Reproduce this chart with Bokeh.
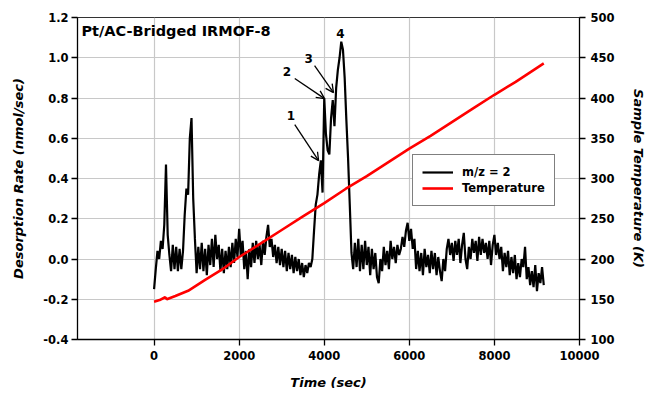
import math
from bokeh.plotting import figure
from bokeh.models import (Range1d, LinearAxis, FixedTicker, NumeralTickFormatter,
                          Label, Arrow, OpenHead, Legend, LegendItem)
from bokeh.embed import file_html
from bokeh.resources import INLINE

# ---------------- data ----------------
x_ticks = [0, 2000, 4000, 6000, 8000, 10000]
rate_ticks = [-0.4, -0.2, 0.0, 0.2, 0.4, 0.6, 0.8, 1.0, 1.2]
temp_ticks = [100, 150, 200, 250, 300, 350, 400, 450, 500]

# m/z = 2 desorption rate (nmol/sec), sampled every 40 s
rate_time = list(range(0, 9200, 40))
rate_values = [
    -0.15, -0.05, 0.04, 0.00, 0.09, 0.05, 0.17, 0.47, 0.12, 0.02,
    -0.06, 0.07, -0.05, 0.06, -0.06, 0.05, -0.05, 0.04, 0.22, 0.35,
    0.32, 0.60, 0.70, 0.30, 0.10, -0.07, 0.06, -0.05, 0.08, -0.06,
    0.05, -0.08, 0.07, -0.03, 0.10, -0.04, 0.12, 0.00, 0.07, -0.06,
    0.05, -0.07, 0.04, -0.05, 0.06, -0.04, 0.08, -0.02, 0.10, 0.01,
    0.15, 0.02, 0.09, -0.05, 0.04, -0.10, 0.05, -0.04, 0.08, -0.02,
    0.09, 0.00, 0.07, -0.03, 0.09, 0.02, 0.11, 0.17, 0.06, 0.10,
    0.01, 0.07, -0.02, 0.06, -0.03, 0.05, -0.04, 0.04, -0.06, 0.03,
    -0.05, 0.02, -0.07, 0.01, -0.06, 0.00, -0.08, -0.02, -0.09, -0.03,
    -0.07, -0.02, -0.04, 0.00, 0.14, 0.27, 0.32, 0.42, 0.49, 0.33,
    0.80, 0.62, 0.54, 0.52, 0.70, 0.79, 0.66, 0.85, 0.94, 1.00,
    1.08, 1.04, 0.90, 0.69, 0.50, 0.27, 0.03, -0.05, 0.08, -0.04,
    0.10, -0.06, 0.07, -0.05, 0.09, -0.03, 0.06, -0.08, 0.05, -0.05,
    0.03, -0.09, -0.12, 0.00, -0.06, 0.06, -0.03, 0.04, -0.05, 0.09,
    0.00, 0.06, -0.02, 0.07, 0.02, 0.05, 0.11, 0.06, 0.14, 0.18,
    0.09, 0.15, 0.05, 0.10, -0.05, 0.04, -0.06, 0.03, -0.08, 0.05,
    -0.04, 0.02, -0.07, 0.04, -0.05, 0.03, -0.08, 0.01, -0.06, -0.11,
    0.00, -0.06, 0.05, 0.10, 0.02, 0.08, -0.01, 0.09, 0.02, 0.10,
    -0.02, 0.07, 0.13, 0.00, -0.05, 0.06, 0.00, 0.10, 0.03, 0.09,
    -0.01, 0.11, 0.02, 0.10, 0.03, 0.08, 0.00, 0.09, -0.03, 0.07,
    0.12, 0.02, 0.08, 0.00, 0.06, -0.06, 0.03, -0.04, 0.04, -0.08,
    0.01, -0.07, 0.02, -0.10, -0.02, -0.09, 0.00, -0.04, 0.06, -0.10,
    -0.04, -0.13, -0.06, -0.14, -0.03, -0.16, -0.07, -0.12, -0.04, -0.13,
]

# sample temperature (K)
temp_time = [0, 130, 260, 300, 500, 800, 1200, 1600, 2000, 2500, 3000, 3500,
             4000, 4500, 5000, 5500, 6000, 6500, 7000, 7500, 8000, 8500, 9000, 9160]
temp_K = [147, 149, 152.5, 150, 154, 160.5, 174, 187, 202.5, 219, 236, 253,
          269.5, 287, 303, 320, 337, 353, 370, 387, 404, 420, 437.5, 443]

peak_labels = ["1", "2", "3", "4"]
peak_label_x = [3214, 3121, 3634, 4380]
peak_label_y = [0.713, 0.932, 0.996, 1.12]
arrow_x0 = [3307, 3307, 3773]
arrow_y0 = [0.668, 0.897, 0.961]
arrow_x1 = [3867, 4007, 4217]
arrow_y1 = [0.489, 0.797, 0.827]

FONT = "DejaVu Sans"

p = figure(width=648, height=393, x_range=Range1d(-1800, 10000), y_range=Range1d(-0.4, 1.2),
           output_backend="svg", toolbar_location=None,
           min_border_left=77, min_border_right=65, min_border_top=17, min_border_bottom=54)
p.background_fill_color = "white"
p.border_fill_color = "white"
p.outline_line_color = "#333333"
p.outline_line_width = 1

p.extra_y_ranges = {"temp": Range1d(100, 500)}

# grids
p.xgrid.ticker = FixedTicker(ticks=x_ticks)
p.ygrid.ticker = FixedTicker(ticks=rate_ticks)
for g in (p.xgrid, p.ygrid):
    g.grid_line_color = "#c8c8c8"
    g.grid_line_width = 1.2

def style_axis(ax, standoff, label, label_standoff):
    ax.axis_line_color = "black"
    ax.axis_line_width = 1.3
    ax.major_tick_line_color = "black"
    ax.major_tick_line_width = 1.3
    ax.major_tick_out = 6
    ax.major_tick_in = 0
    ax.minor_tick_line_color = None
    ax.major_label_text_font = FONT
    ax.major_label_text_font_style = "bold"
    ax.major_label_text_font_size = "11.5px"
    ax.major_label_text_color = "black"
    ax.major_label_standoff = standoff
    ax.axis_label = label
    ax.axis_label_text_font = FONT
    ax.axis_label_text_font_style = "bold italic"
    ax.axis_label_text_font_size = "13px"
    ax.axis_label_text_color = "black"
    ax.axis_label_standoff = label_standoff

xa = p.xaxis[0]
xa.ticker = FixedTicker(ticks=x_ticks)
xa.formatter = NumeralTickFormatter(format="0")
style_axis(xa, 5, "Time (sec)", 12)

ya = p.yaxis[0]
ya.ticker = FixedTicker(ticks=rate_ticks)
ya.formatter = NumeralTickFormatter(format="0.0")
style_axis(ya, 3, "Desorption Rate (nmol/sec)", 14)

ra = LinearAxis(y_range_name="temp", ticker=FixedTicker(ticks=temp_ticks),
                formatter=NumeralTickFormatter(format="0"))
style_axis(ra, 5, "Sample Temperature (K)", 13)
p.add_layout(ra, "right")

# data lines
r1 = p.line(rate_time, rate_values, color="black", line_width=2.2)
r2 = p.line(temp_time, temp_K, color="red", line_width=2.6, y_range_name="temp")

legend = Legend(items=[LegendItem(label="m/z = 2", renderers=[r1]),
                       LegendItem(label="Temperature", renderers=[r2])],
                location=(335, 133), margin=0, padding=9, spacing=0,
                glyph_width=31, glyph_height=16, label_height=16, label_standoff=9,
                border_line_color="black", border_line_width=1,
                background_fill_color="white", background_fill_alpha=1.0,
                label_text_font=FONT, label_text_font_style="bold",
                label_text_font_size="11.5px", label_text_color="black")
p.add_layout(legend)

# title inside plot
p.add_layout(Label(x=-1707, y=1.135, text="Pt/AC-Bridged IRMOF-8", text_font=FONT,
                   text_font_style="bold", text_font_size="14.5px", text_align="left",
                   text_baseline="middle", text_color="black"))

# peak labels and arrows
for t, x, y in zip(peak_labels, peak_label_x, peak_label_y):
    p.add_layout(Label(x=x, y=y, text=t, text_font=FONT, text_font_style="bold",
                       text_font_size="12px", text_align="center", text_baseline="middle",
                       text_color="black"))
for x0, y0, x1, y1 in zip(arrow_x0, arrow_y0, arrow_x1, arrow_y1):
    p.add_layout(Arrow(x_start=x0, y_start=y0, x_end=x1, y_end=y1, line_width=1.3,
                       line_color="black",
                       end=OpenHead(size=8, line_width=1.3, line_color="black")))

open("out.html", "w").write(file_html(p, INLINE))
